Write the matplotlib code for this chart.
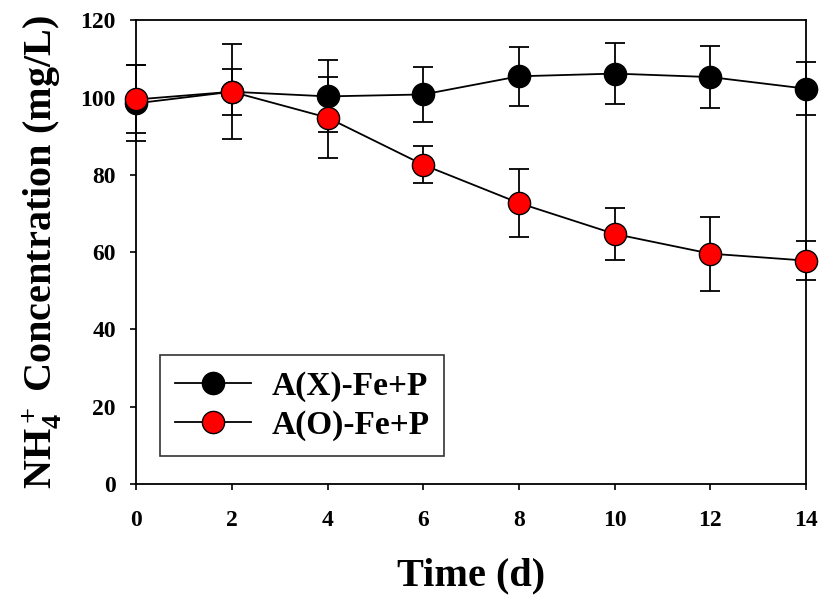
import matplotlib.pyplot as plt

# data
days = [0, 2, 4, 6, 8, 10, 12, 14]
ax_fe_p = [98.5, 101.5, 100.3, 100.8, 105.5, 106.2, 105.3, 102.3]
ax_fe_p_err = [9.8, 12.3, 9.3, 7.0, 7.6, 7.9, 8.0, 6.8]
ao_fe_p = [99.5, 101.5, 94.8, 82.6, 72.7, 64.7, 59.6, 57.8]
ao_fe_p_err = [8.8, 6.0, 10.4, 4.8, 8.8, 6.7, 9.6, 5.0]

plt.rcParams['font.family'] = ['Liberation Serif', 'DejaVu Serif']
plt.rcParams['font.weight'] = 'bold'
plt.rcParams['mathtext.fontset'] = 'custom'
plt.rcParams['mathtext.rm'] = 'Liberation Serif:bold'
plt.rcParams['mathtext.it'] = 'Liberation Serif:bold'
plt.rcParams['mathtext.bf'] = 'Liberation Serif:bold'

fig = plt.figure(figsize=(8.2, 5.96), dpi=100)
ax = fig.add_axes([0.166, 0.188, 0.817, 0.778])

# error bars first, then lines with markers on top
ax.errorbar(days, ax_fe_p, yerr=ax_fe_p_err, fmt='none', ecolor='black',
            elinewidth=1.3, capsize=7, capthick=1.3, zorder=2, clip_on=False)
ax.errorbar(days, ao_fe_p, yerr=ao_fe_p_err, fmt='none', ecolor='black',
            elinewidth=1.3, capsize=7, capthick=1.3, zorder=2, clip_on=False)
ax.plot(days, ax_fe_p, color='black', lw=1.3, marker='o', ms=16,
        mfc='black', mec='black', mew=1, label='A(X)-Fe+P', zorder=3, clip_on=False)
ax.plot(days, ao_fe_p, color='black', lw=1.3, marker='o', ms=16,
        mfc='red', mec='black', mew=1, label='A(O)-Fe+P', zorder=4, clip_on=False)

ax.set_xlim(0, 14)
ax.set_ylim(0, 120)
ax.set_xticks(range(0, 15, 2))
ax.set_yticks(range(0, 121, 20))
ax.tick_params(direction='out', length=4.5, width=1.2, labelsize=17)
ax.tick_params(axis='x', pad=14)
ax.tick_params(axis='y', pad=10)
for s in ax.spines.values():
    s.set_linewidth(1.3)

ax.set_xlabel('Time (d)', fontsize=29, fontweight='bold', labelpad=19)
ax.set_ylabel(r'NH$_4^+$ Concentration (mg/L)', fontsize=29,
              fontweight='bold', labelpad=12)

leg = ax.legend(loc='lower left', bbox_to_anchor=(0.035, 0.06), fontsize=24,
                handlelength=2.3, handletextpad=0.6, frameon=True, fancybox=False,
                edgecolor='black', borderpad=0.45, borderaxespad=0,
                labelspacing=0.25)
leg.get_frame().set_linewidth(1.2)

fig.savefig('out.png', dpi=100)
